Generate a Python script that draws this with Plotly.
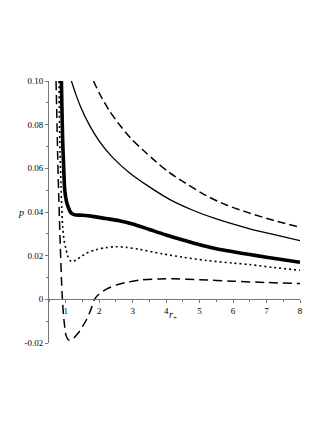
import plotly.graph_objects as go

# --- data (r+ , p) ---
r_top_dash = [1.83, 2.0, 2.3, 2.63, 2.93, 3.3, 3.7, 4.1, 4.6, 5.2, 5.8, 6.5, 7.2, 8.0]
p_top_dash = [0.100, 0.0945, 0.0865, 0.0795, 0.0740, 0.0685, 0.0630, 0.0580, 0.0530, 0.0475,
              0.0432, 0.0395, 0.0362, 0.0330]

r_thin = [1.17, 1.3, 1.45, 1.7, 2.0, 2.4, 2.9, 3.5, 4.1, 4.8, 5.5, 6.5, 7.2, 8.0]
p_thin = [0.100, 0.094, 0.088, 0.080, 0.0725, 0.065, 0.058, 0.0515, 0.0458, 0.0408, 0.0368,
          0.0323, 0.0297, 0.0269]

r_thick = [0.87, 0.89, 0.91, 0.94, 0.97, 1.02, 1.08, 1.15, 1.25, 1.5, 1.8, 2.2, 2.6, 3.0, 3.5,
           4.0, 4.5, 5.0, 5.5, 6.0, 6.5, 7.0, 7.5, 8.0]
p_thick = [0.100, 0.085, 0.072, 0.060, 0.050, 0.045, 0.042, 0.0398, 0.0388, 0.0385, 0.0380, 0.0370,
           0.0360, 0.0345, 0.032, 0.0295, 0.0272, 0.0250, 0.0232, 0.0218, 0.0205, 0.0193, 0.0181, 0.0170]

r_dot = [0.80, 0.81, 0.83, 0.86, 0.88, 0.91, 0.95, 1.0, 1.06, 1.13, 1.2, 1.3, 1.45, 1.6, 1.9,
         2.2, 2.5, 2.8, 3.2, 3.9, 4.5, 5.2, 6.0, 6.5, 7.2, 8.0]
p_dot = [0.100, 0.085, 0.068, 0.052, 0.042, 0.033, 0.027, 0.0235, 0.0198, 0.0178, 0.0172, 0.0180,
         0.0195, 0.0210, 0.0227, 0.0237, 0.0241, 0.0238, 0.0229, 0.0208, 0.0193, 0.0178, 0.0166,
         0.0159, 0.0146, 0.0133]

r_low_dash = [0.71, 0.74, 0.76, 0.79, 0.83, 0.87, 0.90, 0.95, 1.02, 1.1, 1.2, 1.38, 1.5, 1.63,
              1.75, 1.86, 2.0, 2.23, 2.5, 2.83, 3.22, 3.8, 4.2, 5.0, 6.0, 7.0, 8.0]
p_low_dash = [0.100, 0.080, 0.065, 0.048, 0.028, 0.010, 0.0, -0.010, -0.0170, -0.0187, -0.0182,
              -0.0153, -0.0125, -0.0090, -0.0048, 0.0, 0.0025, 0.0048, 0.0065, 0.0078, 0.0088,
              0.0093, 0.0094, 0.0090, 0.0083, 0.0077, 0.0072]

x_ticks = [1, 2, 3, 4, 5, 6, 7, 8]
y_ticks = [-0.02, 0, 0.02, 0.04, 0.06, 0.08, 0.10]
y_ticktext = ["-0.02", "0", "0.02", "0.04", "0.06", "0.08", "0.10"]

X_MIN, X_MAX = 0.5, 8.0
Y_MIN, Y_MAX = -0.02, 0.10
SERIF = "Liberation Serif"
AXIS_GREY = "#777"

fig = go.Figure()

curves = [
    (r_top_dash, p_top_dash, 1.5, "8px,4px"),
    (r_thin, p_thin, 1.3, "solid"),
    (r_thick, p_thick, 3.6, "solid"),
    (r_dot, p_dot, 1.6, "2px,3px"),
    (r_low_dash, p_low_dash, 1.5, "9px,5px"),
]
for xs, ys, w, dash in curves:
    fig.add_trace(go.Scatter(x=xs, y=ys, mode="lines",
                             line=dict(color="black", width=w, dash=dash, shape="spline", smoothing=0.8),
                             showlegend=False, hoverinfo="skip"))

# x axis drawn across y = 0
zero_pos = (0 - Y_MIN) / (Y_MAX - Y_MIN)

# page body adds an 8px offset, so the figure is a bit smaller than the window
fig.update_layout(
    template="none",
    width=319, height=415,
    margin=dict(l=41, r=27, t=73, b=80),
    paper_bgcolor="white", plot_bgcolor="white",
    font=dict(family=SERIF, size=9, color="black"),
    xaxis=dict(range=[X_MIN, X_MAX], anchor="free", position=zero_pos,
               showgrid=False, zeroline=False, showline=True, linecolor=AXIS_GREY, linewidth=1,
               tickvals=x_ticks, ticks="outside", ticklen=3, tickcolor=AXIS_GREY,
               minor=dict(dtick=0.5, tick0=0, ticks="outside", ticklen=2, tickcolor=AXIS_GREY),
               tickfont=dict(family=SERIF, size=9, color="black")),
    yaxis=dict(range=[Y_MIN, Y_MAX], showgrid=False, zeroline=False,
               showline=True, linecolor=AXIS_GREY, linewidth=1,
               tickvals=y_ticks, ticktext=y_ticktext, ticks="outside", ticklen=3, tickcolor=AXIS_GREY,
               minor=dict(dtick=0.01, tick0=0, ticks="outside", ticklen=2, tickcolor=AXIS_GREY),
               tickfont=dict(family=SERIF, size=9, color="black")),
)

fig.add_annotation(text="<i>p</i>", xref="paper", yref="y", x=-0.13, y=0.04,
                   showarrow=False, font=dict(family=SERIF, size=10, color="black"))
fig.add_annotation(text="<i>r</i><sub>+</sub>", xref="x", yref="y", x=4.2, y=-0.0075,
                   showarrow=False, font=dict(family=SERIF, size=10, color="black"))

fig.write_html("out.html")
